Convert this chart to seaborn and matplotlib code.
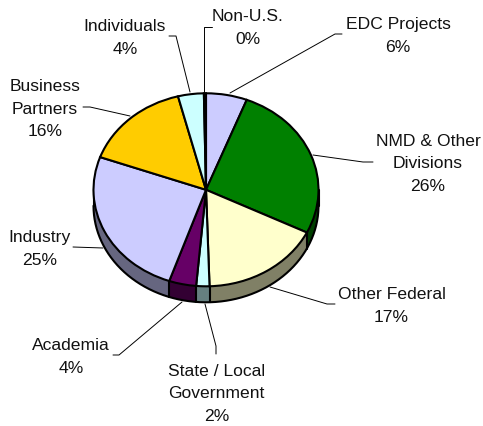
import numpy as np
import seaborn as sns
import matplotlib.pyplot as plt

names = ["EDC Projects", "NMD & Other\nDivisions", "Other Federal", "State / Local\nGovernment",
         "Academia", "Industry", "Business\nPartners", "Individuals", "Non-U.S."]
shares = [5.9, 26.4, 17.2, 1.9, 3.9, 25.2, 15.5, 3.7, 0.3]
top_colors = ["#CCCCFF", "#008000", "#FFFFCC", "#CCFFFF", "#660066", "#CCCCFF", "#FFCC00", "#CCFFFF", "#000000"]
side_colors = ["#666680", "#004000", "#808066", "#668080", "#330033", "#666680", "#806600", "#668080", "#000000"]

# label centres and leader paths, figure pixels from top left
label_xy = [(398, 36), (428, 164), (391.5, 306), (216.5, 394), (71, 357),
            (39.5, 249), (45, 109), (125, 38), (247.5, 28)]
leaders = [
    [(230, 94), (335, 35), (342, 35)],
    [(313, 156), (363, 163), (373, 163)],
    [(270, 288), (327, 305), (335, 305)],
    [(205, 305), (216, 347), (216, 355)],
    [(182, 303), (119, 356), (113, 356)],
    [(103, 249), (73, 248)],
    [(130, 117), (90, 108), (83, 108)],
    [(190, 93), (176, 37), (169, 37)],
    [(204, 93), (204, 28), (212, 28)],
]

W, H = 483, 427
cx, cy, rx, ry = 206, 190.8, 112.5, 96.5
depth = 16 / ry
edge = 1.5

sns.set_style("white")
plt.rcParams["font.family"] = ["Liberation Sans", "DejaVu Sans"]

fig = plt.figure(figsize=(W / 100, H / 100), dpi=100)
ax = fig.add_axes([0, 0, 1, 1])

# side of the pie: same pie repeated, shifted down
for off in np.linspace(depth, 0, 40):
    ax.pie(shares, colors=sns.color_palette(side_colors), startangle=90, counterclock=False,
           center=(0, -off), wedgeprops={"linewidth": 0})

# outline of the side
t = np.radians(np.linspace(180, 360, 200))
ax.plot(np.cos(t), np.sin(t) - depth, color="black", lw=edge, zorder=3)
ax.plot([-1, -1], [0, -depth], color="black", lw=edge, zorder=3)
ax.plot([1, 1], [0, -depth], color="black", lw=edge, zorder=3)
for c in np.cumsum(shares):
    a = np.radians(90 - 3.6 * c)
    if np.sin(a) < 0:
        ax.plot([np.cos(a)] * 2, [np.sin(a), np.sin(a) - depth], color="black", lw=edge, zorder=3)

wedges, _ = ax.pie(shares, colors=sns.color_palette(top_colors), startangle=90, counterclock=False,
                   wedgeprops={"edgecolor": "black", "linewidth": edge})
for w in wedges:
    w.set_zorder(4)

ax.set_aspect("auto")
ax.set_xlim(-cx / rx, (W - cx) / rx)
ax.set_ylim(-(H - cy) / ry, cy / ry)
ax.axis("off")

# labels and leader lines
over = fig.add_axes([0, 0, 1, 1])
over.set_xlim(0, W)
over.set_ylim(H, 0)
over.axis("off")
over.patch.set_alpha(0)

for name, share, (x, y), path in zip(names, shares, label_xy, leaders):
    over.text(x, y, f"{name}\n{share:.0f}%", ha="center", va="center", fontsize=12.6,
              color="#111111", linespacing=1.62)
    xs, ys = zip(*path)
    over.plot(xs, ys, color="black", lw=0.7)

fig.savefig("out.png", dpi=100)
plt.close()
